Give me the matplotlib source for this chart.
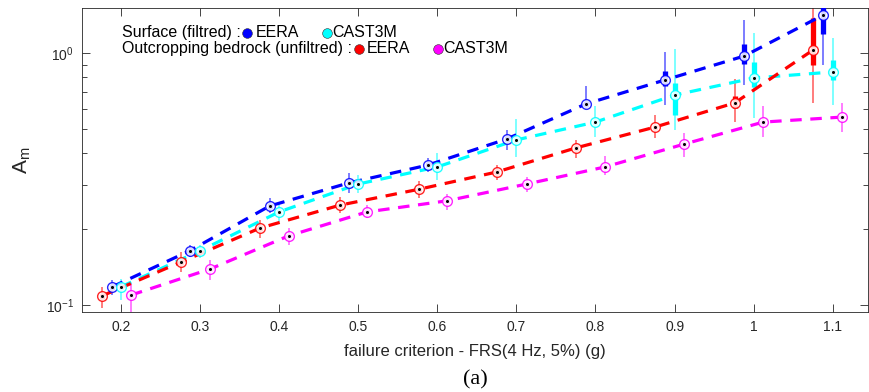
import matplotlib
matplotlib.use("Agg")
import matplotlib.pyplot as plt
from matplotlib.ticker import FixedLocator, NullFormatter

plt.rcParams["font.family"] = ["Liberation Sans", "DejaVu Sans"]
plt.rcParams["mathtext.fontset"] = "custom"
plt.rcParams["mathtext.rm"] = "Liberation Sans"

# ---- data (x = failure criterion, y = A_m) ----
blue_x = [0.189, 0.287, 0.388, 0.488, 0.588, 0.688, 0.788, 0.888, 0.988, 1.088]
blue_med = [0.118, 0.164, 0.247, 0.305, 0.359, 0.456, 0.628, 0.782, 0.973, 1.416]
blue_lo = [0.110, 0.155, 0.232, 0.278, 0.337, 0.412, 0.600, 0.622, 0.746, 0.896]
blue_hi = [0.126, 0.173, 0.266, 0.334, 0.383, 0.494, 0.740, 1.009, 1.352, 1.70]
blue_q1 = [0.115, 0.160, 0.241, 0.297, 0.350, 0.445, 0.612, 0.740, 0.904, 1.189]
blue_q3 = [0.121, 0.168, 0.253, 0.313, 0.368, 0.467, 0.645, 0.849, 1.086, 1.55]

cyan_x = [0.200, 0.300, 0.400, 0.500, 0.600, 0.700, 0.800, 0.900, 1.000, 1.100]
cyan_med = [0.118, 0.164, 0.234, 0.302, 0.353, 0.452, 0.532, 0.681, 0.796, 0.841]
cyan_lo = [0.105, 0.154, 0.213, 0.278, 0.313, 0.386, 0.464, 0.494, 0.552, 0.622]
cyan_hi = [0.127, 0.173, 0.254, 0.328, 0.401, 0.547, 0.617, 1.037, 1.20, 1.147]
cyan_q1 = [0.115, 0.160, 0.228, 0.294, 0.344, 0.440, 0.518, 0.568, 0.733, 0.782]
cyan_q3 = [0.121, 0.168, 0.240, 0.310, 0.362, 0.464, 0.546, 0.760, 0.920, 0.938]

red_x = [0.176, 0.276, 0.376, 0.477, 0.577, 0.675, 0.775, 0.875, 0.976, 1.075]
red_med = [0.1086, 0.148, 0.202, 0.249, 0.288, 0.337, 0.420, 0.508, 0.634, 1.028]
red_lo = [0.0973, 0.135, 0.184, 0.232, 0.266, 0.313, 0.383, 0.460, 0.532, 0.634]
red_hi = [0.118, 0.162, 0.217, 0.268, 0.310, 0.359, 0.452, 0.568, 0.789, 1.70]
red_q1 = [0.106, 0.144, 0.197, 0.243, 0.281, 0.329, 0.410, 0.496, 0.605, 0.896]
red_q3 = [0.111, 0.152, 0.207, 0.255, 0.295, 0.345, 0.430, 0.520, 0.675, 1.377]

mag_x = [0.213, 0.313, 0.412, 0.511, 0.612, 0.713, 0.812, 0.912, 1.012, 1.112]
mag_med = [0.1095, 0.139, 0.188, 0.234, 0.259, 0.302, 0.353, 0.435, 0.532, 0.557]
mag_lo = [0.092, 0.126, 0.173, 0.221, 0.238, 0.281, 0.328, 0.386, 0.464, 0.486]
mag_hi = [0.122, 0.151, 0.202, 0.249, 0.275, 0.322, 0.390, 0.482, 0.617, 0.634]
mag_q1 = [0.107, 0.136, 0.184, 0.229, 0.253, 0.295, 0.345, 0.425, 0.520, 0.545]
mag_q3 = [0.112, 0.142, 0.192, 0.239, 0.265, 0.309, 0.361, 0.445, 0.544, 0.570]

x_ticks = [0.2, 0.3, 0.4, 0.5, 0.6, 0.7, 0.8, 0.9, 1.0, 1.1]
x_ticklabels = ["0.2", "0.3", "0.4", "0.5", "0.6", "0.7", "0.8", "0.9", "1", "1.1"]

BLUE, CYAN, RED, MAG = "#0000ff", "#00ffff", "#ff0000", "#ff00ff"

series = [
    (blue_x, blue_med, blue_lo, blue_hi, blue_q1, blue_q3, BLUE),
    (cyan_x, cyan_med, cyan_lo, cyan_hi, cyan_q1, cyan_q3, CYAN),
    (red_x, red_med, red_lo, red_hi, red_q1, red_q3, RED),
    (mag_x, mag_med, mag_lo, mag_hi, mag_q1, mag_q3, MAG),
]

fig = plt.figure(figsize=(8.69, 3.92), dpi=100)
ax = fig.add_axes([0.0944, 0.2041, 0.9046, 0.7755])

for xs, med, lo, hi, q1, q3, col in series:
    ax.vlines(xs, lo, hi, colors=col, lw=1.1, alpha=0.65, zorder=2)
    ax.vlines(xs, q1, q3, colors=col, lw=3.8, zorder=3)
for xs, med, lo, hi, q1, q3, col in series:
    ax.plot(xs, med, color=col, lw=2.3, dashes=(3.6, 2.7), zorder=4)
for xs, med, lo, hi, q1, q3, col in series:
    ax.plot(xs, med, "o", ms=7, mfc="white", mec=col, mew=1.0, alpha=0.85, zorder=5)
    ax.plot(xs, med, "o", ms=2.2, mfc="black", mec="black", mew=0, zorder=6)

ax.set_yscale("log")
ax.set_xlim(0.151, 1.1446)
ax.set_ylim(0.0938, 1.509)
ax.set_xticks(x_ticks)
ax.set_xticklabels(x_ticklabels)
ax.yaxis.set_minor_locator(FixedLocator([0.2, 0.3, 0.4, 0.5, 0.6, 0.7, 0.8, 0.9]))
ax.yaxis.set_minor_formatter(NullFormatter())
ax.tick_params(which="both", direction="in", top=True, right=True, colors="#262626",
               labelsize=10, labelcolor="#262626", pad=6)
ax.tick_params(which="major", length=5.5, width=0.6)
ax.tick_params(which="minor", length=3.5, width=0.6)
for sp in ax.spines.values():
    sp.set_color("#262626")
    sp.set_linewidth(0.6)

ax.set_xlabel("failure criterion - FRS(4 Hz, 5%) (g)", fontsize=12, color="#262626", labelpad=7)
ax.set_ylabel(r"A$_\mathrm{m}$", fontsize=15, color="#262626")
ax.yaxis.set_label_coords(-0.062, 0.5)

# custom two-line legend
leg_fs = 11.5
ax.text(0.0509, 0.918, "Surface (filtred) :", transform=ax.transAxes, fontsize=leg_fs, va="center")
ax.text(0.0509, 0.866, "Outcropping bedrock (unfiltred) :", transform=ax.transAxes, fontsize=leg_fs, va="center")
legend_items = [
    (0.2099, 0.2214, 0.918, BLUE, "EERA"),
    (0.3117, 0.3180, 0.918, CYAN, "CAST3M"),
    (0.3524, 0.3626, 0.866, RED, "EERA"),
    (0.4529, 0.4593, 0.866, MAG, "CAST3M"),
]
for mx, tx, ty, col, lab in legend_items:
    ax.plot([mx], [ty], "o", ms=7, mfc=col, mec="#333333", mew=0.4, transform=ax.transAxes, clip_on=False)
    ax.text(tx, ty, lab, transform=ax.transAxes, fontsize=leg_fs, va="center")

fig.text(0.5475, 0.02, "(a)", fontsize=16, family=["Liberation Serif", "DejaVu Serif"], ha="center")

fig.savefig("out.png", dpi=100)
